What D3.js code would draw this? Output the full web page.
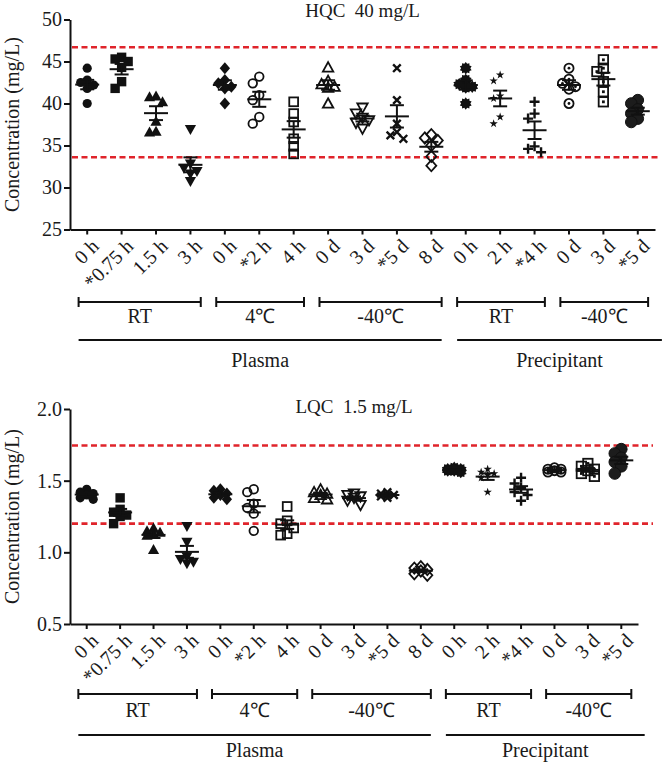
<!DOCTYPE html>
<html>
<head>
<meta charset="utf-8">
<script src="https://cdn.jsdelivr.net/npm/d3@7/dist/d3.min.js"></script>
<style>
  html, body { margin: 0; padding: 0; background: #fff; }
  svg { display: block; }
  svg text { font-family: "Liberation Serif", "Times New Roman", serif !important; fill: #1a1a1a; }
</style>
</head>
<body>
<svg id="chart" width="666" height="765" font-family="Liberation Serif, serif"></svg>
<script>
// ---------------- DATA ----------------
const categories = ["0 h", "*0.75 h", "1.5 h", "3 h", "0 h", "*2 h", "4 h", "0 d", "3 d", "*5 d", "8 d",
                    "0 h", "2 h", "*4 h", "0 d", "3 d", "*5 d"];

const conditionGroups = [
  { label: "RT", from: 0, to: 3 },
  { label: "4℃", from: 4, to: 6 },
  { label: "-40℃", from: 7, to: 10 },
  { label: "RT", from: 11, to: 13 },
  { label: "-40℃", from: 14, to: 16 }
];
const matrixGroups = [
  { label: "Plasma", from: 0, to: 10 },
  { label: "Precipitant", from: 11, to: 16 }
];

const hqcTitle = "HQC  40 mg/L";
const hqcTicks = [25, 30, 35, 40, 45, 50];
const hqcLimits = [46.7, 33.6];
const hqcValues = [
  [44.2, 42.8, 42.5, 42.2, 41.8, 40.0],
  [45.5, 45.3, 45.0, 44.3, 42.6, 41.8],
  [40.9, 40.8, 40.2, 37.9, 36.7, 36.6],
  [36.9, 32.8, 32.3, 31.9, 31.6, 30.7],
  [44.2, 42.8, 42.4, 42.0, 41.8, 40.0],
  [43.2, 42.4, 41.0, 40.4, 38.4, 37.6],
  [40.2, 38.8, 37.8, 35.8, 34.9, 34.0],
  [44.3, 42.7, 42.3, 42.0, 41.9, 40.0],
  [39.5, 38.8, 38.3, 38.0, 37.7, 37.0],
  [44.2, 40.4, 37.6, 36.6, 36.2, 35.8],
  [36.3, 35.9, 35.6, 35.0, 33.7, 32.6],
  [44.2, 42.8, 42.3, 42.0, 41.9, 40.0],
  [43.4, 42.7, 40.9, 40.6, 38.4, 37.6],
  [40.2, 38.8, 38.2, 34.9, 34.6, 34.2],
  [44.2, 42.9, 42.4, 42.0, 41.7, 40.0],
  [45.2, 44.2, 43.8, 42.6, 41.4, 40.2],
  [40.4, 40.0, 39.3, 38.8, 38.2, 37.8]
];

const lqcTitle = "LQC  1.5 mg/L";
const lqcTicks = [0.5, 1.0, 1.5, 2.0];
const lqcLimits = [1.745, 1.2];
const lqcValues = [
  [1.44, 1.42, 1.41, 1.40, 1.38, 1.37],
  [1.38, 1.30, 1.28, 1.26, 1.25, 1.20],
  [1.17, 1.15, 1.14, 1.13, 1.12, 1.02],
  [1.18, 1.07, 0.97, 0.95, 0.93, 0.92],
  [1.44, 1.43, 1.41, 1.40, 1.38, 1.37],
  [1.44, 1.42, 1.34, 1.31, 1.27, 1.15],
  [1.32, 1.22, 1.20, 1.17, 1.13, 1.12],
  [1.44, 1.42, 1.41, 1.40, 1.38, 1.37],
  [1.41, 1.40, 1.39, 1.38, 1.36, 1.33],
  [1.42, 1.41, 1.40, 1.40, 1.39, 1.38],
  [0.90, 0.89, 0.88, 0.87, 0.85, 0.84],
  [1.59, 1.58, 1.58, 1.57, 1.57, 1.56],
  [1.58, 1.56, 1.55, 1.54, 1.52, 1.42],
  [1.52, 1.48, 1.45, 1.42, 1.40, 1.36],
  [1.59, 1.58, 1.58, 1.57, 1.56, 1.56],
  [1.62, 1.60, 1.58, 1.57, 1.55, 1.53],
  [1.72, 1.69, 1.66, 1.63, 1.60, 1.55]
];

// ---------------- STYLE ----------------
const markerTypes = ["circle", "square", "triangle", "triangleDown", "diamond", "circleOpen", "squareOpen",
  "triangleOpen", "triangleDownOpen", "x", "diamondOpen", "burst", "star", "plus", "circleDot", "squareDot", "circleBig"];
const INK = "#111";
const RED = "#e0242b";
const FONT = 20;
const SERIF = "Liberation Serif, Times New Roman, serif";

function drawMarker(g, type) {
  const open = (sel) => sel.attr("fill", "none").attr("stroke", INK).attr("stroke-width", 1.8);
  switch (type) {
    case "circle": g.append("circle").attr("r", 4.6).attr("fill", INK); break;
    case "square": g.append("rect").attr("x", -4.7).attr("y", -4.7).attr("width", 9.4).attr("height", 9.4).attr("fill", INK); break;
    case "triangle": g.append("path").attr("d", "M0,-5.5L5.6,4.5L-5.6,4.5Z").attr("fill", INK); break;
    case "triangleDown": g.append("path").attr("d", "M0,5.5L5.6,-4.5L-5.6,-4.5Z").attr("fill", INK); break;
    case "diamond": g.append("path").attr("d", "M0,-6L5.2,0L0,6L-5.2,0Z").attr("fill", INK); break;
    case "circleOpen": open(g.append("circle").attr("r", 4.3)); break;
    case "squareOpen": open(g.append("rect").attr("x", -4.4).attr("y", -4.4).attr("width", 8.8).attr("height", 8.8)); break;
    case "triangleOpen": open(g.append("path").attr("d", "M0,-5.2L5.2,4.2L-5.2,4.2Z")); break;
    case "triangleDownOpen": open(g.append("path").attr("d", "M0,5.2L5.2,-4.2L-5.2,-4.2Z")); break;
    case "x": g.append("path").attr("d", "M-3.8,-3.8L3.8,3.8M-3.8,3.8L3.8,-3.8").attr("stroke", INK).attr("stroke-width", 2.4); break;
    case "diamondOpen": open(g.append("path").attr("d", "M0,-5.6L5,0L0,5.6L-5,0Z")); break;
    case "burst": {
      const pts = [];
      const n = 10;
      for (let i = 0; i < n * 2; i++) {
        const r = i % 2 === 0 ? 6.2 : 4.6;
        const a = Math.PI * i / n;
        pts.push([r * Math.sin(a), -r * Math.cos(a)]);
      }
      g.append("path").attr("d", "M" + pts.map(p => p.join(",")).join("L") + "Z").attr("fill", INK);
      break;
    }
    case "star": g.append("path").attr("d", d3.symbol(d3.symbolStar, 22)()).attr("fill", INK); break;
    case "plus": g.append("path").attr("d", "M-5,0H5M0,-5V5").attr("stroke", INK).attr("stroke-width", 2.4); break;
    case "circleDot":
      open(g.append("circle").attr("r", 4.6));
      g.append("circle").attr("r", 1.4).attr("fill", INK);
      break;
    case "squareDot":
      open(g.append("rect").attr("x", -4.7).attr("y", -4.7).attr("width", 9.4).attr("height", 9.4));
      g.append("rect").attr("x", -1.4).attr("y", -1.4).attr("width", 2.8).attr("height", 2.8).attr("fill", INK);
      break;
    case "circleBig": g.append("circle").attr("r", 5.8).attr("fill", "#1c1c1c").attr("stroke", INK).attr("stroke-width", 1); break;
  }
}

// scatter spread: at most three horizontal slots, overlap allowed when crowded
function spread(ys, minDist, step) {
  const order = ys.map((y, i) => i).sort((a, b) => ys[a] - ys[b]);
  const placed = [];
  const dx = new Array(ys.length).fill(0);
  const cands = [0, -step, step];
  order.forEach(i => {
    let best = 0, bestD = -1;
    for (const c of cands) {
      const d = placed.length ? d3.min(placed, p => Math.hypot(p[0] - c, p[1] - ys[i])) : Infinity;
      if (d >= minDist) { best = c; bestD = Infinity; break; }
      if (d > bestD) { bestD = d; best = c; }
    }
    dx[i] = best; placed.push([best, ys[i]]);
  });
  return dx;
}

const svg = d3.select("#chart");

function panel(cfg) {
  const g = svg.append("g");
  const idx = d3.range(categories.length);
  const x = d3.scaleBand().domain(idx).range([cfg.left, cfg.right]).paddingInner(0).paddingOuter(0);
  const cx = i => x(i) + x.bandwidth() / 2;
  const step = x.step();
  const y = d3.scaleLinear().domain(d3.extent(cfg.ticks)).range([cfg.bottom, cfg.top]);

  // title
  g.append("text").attr("x", (cfg.left + cfg.right) / 2).attr("y", cfg.titleY)
    .attr("text-anchor", "middle").attr("font-size", 19).attr("font-family", SERIF)
    .attr("xml:space", "preserve").style("white-space", "pre").text(cfg.title);

  // reference lines
  cfg.limits.forEach(v => {
    g.append("line").attr("x1", cfg.left + 2).attr("x2", cfg.refRight)
      .attr("y1", y(v)).attr("y2", y(v))
      .attr("stroke", RED).attr("stroke-width", 2.6).attr("stroke-dasharray", "6,3.5");
  });

  // y axis
  const ya = g.append("g").attr("transform", `translate(${cfg.left},0)`)
    .call(d3.axisLeft(y).tickValues(cfg.ticks).tickFormat(cfg.fmt).tickSize(6).tickSizeOuter(0).tickPadding(2));
  ya.attr("font-family", SERIF).attr("font-size", FONT);
  ya.select(".domain").attr("stroke", INK).attr("stroke-width", 2);
  ya.selectAll(".tick line").attr("stroke", INK).attr("stroke-width", 2);
  ya.selectAll(".tick text").attr("font-size", FONT).attr("font-family", SERIF).attr("fill", "#1a1a1a");

  // y label
  g.append("text").attr("transform", `translate(18.5,${(cfg.top + cfg.bottom) / 2}) rotate(-90)`)
    .attr("text-anchor", "middle").attr("font-size", FONT).attr("font-family", SERIF).text("Concentration (mg/L)");

  // x axis
  const xa = g.append("g").attr("transform", `translate(0,${cfg.bottom})`)
    .call(d3.axisBottom(x).tickFormat(() => "").tickSize(5).tickSizeOuter(0));
  xa.select(".domain").attr("stroke", INK).attr("stroke-width", 2);
  xa.selectAll(".tick line").attr("stroke", INK).attr("stroke-width", 2);
  xa.selectAll(".tick text").remove();

  // rotated tick labels
  idx.forEach(i => {
    g.append("text")
      .attr("transform", `translate(${cx(i) + 8},${cfg.bottom + 13}) rotate(-45)`)
      .attr("text-anchor", "end").attr("dy", "0.35em").attr("font-size", FONT).attr("font-family", SERIF)
      .attr("xml:space", "preserve").text(categories[i]);
  });

  // points + mean/SEM
  cfg.values.forEach((vals, i) => {
    const ys = vals.map(v => y(v));
    const dx = spread(ys, 7.5, 6.5);
    vals.forEach((v, j) => {
      const mg = g.append("g").attr("transform", `translate(${cx(i) + dx[j]},${ys[j]})`);
      drawMarker(mg, markerTypes[i]);
    });
    const m = d3.mean(vals);
    const sem = d3.deviation(vals) / Math.sqrt(vals.length);
    const c = cx(i);
    const lines = [
      [c - 12, y(m), c + 12, y(m)],
      [c - 7, y(m + sem), c + 7, y(m + sem)],
      [c - 7, y(m - sem), c + 7, y(m - sem)],
      [c, y(m + sem), c, y(m - sem)]
    ];
    lines.forEach(l => g.append("line").attr("x1", l[0]).attr("y1", l[1]).attr("x2", l[2]).attr("y2", l[3])
      .attr("stroke", INK).attr("stroke-width", 2));
  });

  // condition brackets
  conditionGroups.forEach(gr => {
    const x1 = cx(gr.from) - 0.25 * step, x2 = cx(gr.to) + 0.3 * step;
    const by = cfg.bracketY;
    g.append("path").attr("d", `M${x1},${by - 5}V${by + 5}M${x1},${by}H${x2}M${x2},${by - 5}V${by + 5}`)
      .attr("stroke", INK).attr("stroke-width", 2).attr("fill", "none");
    g.append("text").attr("x", (x1 + x2) / 2).attr("y", cfg.bracketLabelY)
      .attr("text-anchor", "middle").attr("font-size", FONT).attr("font-family", SERIF).text(gr.label);
  });

  // matrix lines
  matrixGroups.forEach((gr, k) => {
    const x1 = cx(gr.from) - 0.25 * step;
    const x2 = k === matrixGroups.length - 1 ? cx(gr.to) + 0.7 * step : cx(gr.to) + 0.3 * step;
    g.append("line").attr("x1", x1).attr("x2", x2).attr("y1", cfg.longY).attr("y2", cfg.longY)
      .attr("stroke", INK).attr("stroke-width", 2);
    g.append("text").attr("x", (x1 + x2) / 2).attr("y", cfg.longLabelY)
      .attr("text-anchor", "middle").attr("font-size", FONT).attr("font-family", SERIF).text(gr.label);
  });
}

panel({
  left: 70, right: 655, top: 19.5, bottom: 229.5, refRight: 660,
  ticks: hqcTicks, fmt: d3.format("d"), limits: hqcLimits, values: hqcValues,
  title: hqcTitle, titleY: 17,
  bracketY: 302, bracketLabelY: 323, longY: 340, longLabelY: 367
});

panel({
  left: 70, right: 638, top: 409, bottom: 624, refRight: 653,
  ticks: lqcTicks, fmt: d3.format(".1f"), limits: lqcLimits, values: lqcValues,
  title: lqcTitle, titleY: 413,
  bracketY: 694, bracketLabelY: 717, longY: 735, longLabelY: 757
});
</script>
</body>
</html>
